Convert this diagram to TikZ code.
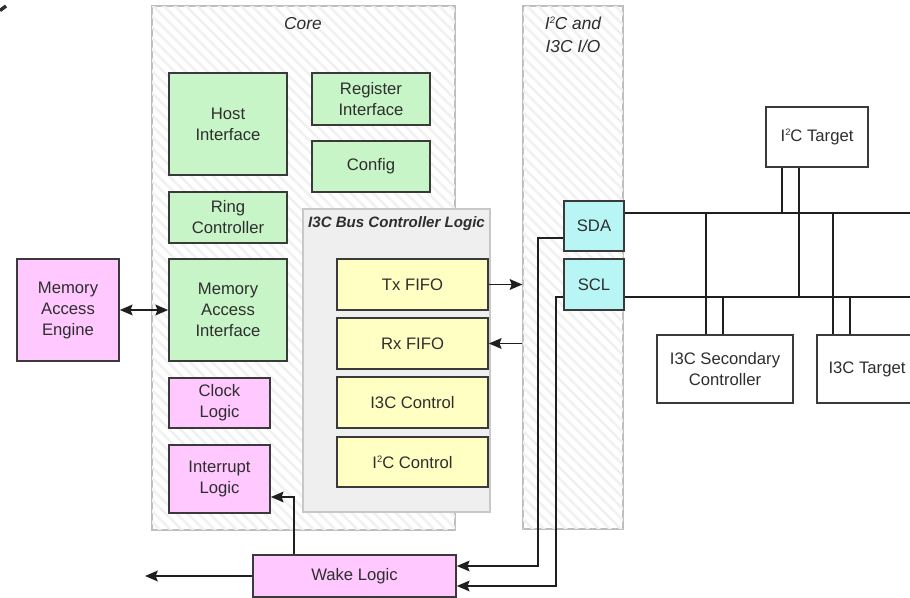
\documentclass[tikz,border=0pt]{standalone}
\usepackage{fontspec}
\setmainfont{Liberation Sans}
\usetikzlibrary{arrows.meta,calc}

\definecolor{txt}{HTML}{2E2E2E}
\definecolor{edge}{HTML}{3A3A3A}
\definecolor{frame}{HTML}{BEBEBE}
\definecolor{gfill}{RGB}{200,245,200}
\definecolor{pfill}{RGB}{255,200,255}
\definecolor{yfill}{RGB}{255,255,195}
\definecolor{cfill}{RGB}{184,246,246}
\definecolor{bfill}{HTML}{EFEFEF}
\definecolor{bedge}{HTML}{C8C8C8}
\definecolor{hatch}{HTML}{F1F1F1}

\newcommand{\supii}{\textsuperscript{\kern0.02em\scriptsize 2}\kern-0.05em}

\begin{document}
\begin{tikzpicture}[x=0.75pt,y=-0.75pt,
  sz/.style 2 args={minimum width=#1*0.75pt, minimum height=#2*0.75pt},
  blk/.style={draw=edge, line width=1.25pt, inner sep=0pt, align=center, text=txt,
    font=\fontsize{12.5}{15.75}\selectfont},
  container/.style={draw=frame, line width=0.9pt, fill=white, inner sep=0pt},
  title/.style={text=txt, align=center, inner sep=0pt,
    font=\fontsize{13}{17.5}\selectfont\itshape},
  wire/.style={draw=black!88, line width=1.4pt},
  tip/.style={Stealth[length=9.5pt,width=8pt,inset=1.5pt]},
  arr/.style={wire, -{Stealth[length=9.5pt,width=8pt,inset=1.5pt]}},
  darr/.style={wire, {Stealth[length=9.5pt,width=8pt,inset=1.5pt]}-{Stealth[length=9.5pt,width=8pt,inset=1.5pt]}},
  hatchline/.style={draw=hatch, line width=2pt}]

\useasboundingbox (0,0) rectangle (910,598);
\clip (0,0) rectangle (910,598);
\fill[white] (0,0) rectangle (910,598);

% small stroke in the upper left corner
\draw[line width=2.6pt, txt] (0,10.5) -- (6,6);

% ---------- containers with light diagonal hatching ----------
\node[container, sz={303}{524}] (core) at (303.5,268) {};
\begin{scope}
  \clip (core.north west) rectangle (core.south east);
  \foreach \i in {-700,-689,...,470} \draw[hatchline] (\i,0) -- ++(720,720);
\end{scope}
\draw[frame, line width=0.9pt] (core.north west) rectangle (core.south east);

\node[container, sz={100}{523}] (io) at (573,267.5) {};
\begin{scope}
  \clip (io.north west) rectangle (io.south east);
  \foreach \i in {-700,-689,...,640} \draw[hatchline] (\i,0) -- ++(720,720);
\end{scope}
\draw[frame, line width=0.9pt] (io.north west) rectangle (io.south east);

\node[title] (corelbl) at (303,24) {Core};
\node[title] (iolbl) at (573,35) {I\supii C and\\I3C I/O};

% ---------- I3C bus controller logic ----------
\node[draw=bedge, fill=bfill, line width=1pt, inner sep=0pt, sz={187}{303}] (bcl) at (396.5,360.5) {};
\node[text=txt, inner sep=0pt, font=\fontsize{11.3}{13}\selectfont\bfseries\itshape] (bcllbl) at (396.5,224) {I3C Bus Controller Logic};

% ---------- core blocks ----------
\node[blk, fill=gfill, sz={118}{102}] (host) at (228,124) {Host\\Interface};
\node[blk, fill=gfill, sz={118}{52}] (reg) at (371,99) {Register\\Interface};
\node[blk, fill=gfill, sz={118}{51}] (cfg) at (371,166.5) {Config};
\node[blk, fill=gfill, sz={118}{51}] (ring) at (228,217.5) {Ring\\Controller};
\node[blk, fill=gfill, sz={118}{102}] (mai) at (228,310) {Memory\\Access\\Interface};
\node[blk, fill=pfill, sz={101}{50}] (clk) at (219.5,403) {Clock\\Logic};
\node[blk, fill=pfill, sz={101}{68}] (intr) at (219.5,479) {Interrupt\\Logic};

\node[blk, fill=yfill, sz={151}{51}] (tx) at (412.5,284.5) {Tx FIFO};
\node[blk, fill=yfill, sz={151}{51}] (rx) at (412.5,343.5) {Rx FIFO};
\node[blk, fill=yfill, sz={151}{51}] (i3cc) at (412.5,402.5) {I3C Control};
\node[blk, fill=yfill, sz={151}{50}] (i2cc) at (412.5,462) {I\supii C Control};

% ---------- outside blocks ----------
\node[blk, fill=pfill, sz={102}{102}] (mae) at (68,310) {Memory\\Access\\Engine};
\node[blk, fill=pfill, sz={203}{42}] (wake) at (354.5,576) {Wake Logic};

\node[blk, fill=cfill, sz={60}{50}] (sda) at (594,226) {SDA};
\node[blk, fill=cfill, sz={60}{51}] (scl) at (594,284.5) {SCL};

\node[blk, fill=white, sz={102}{60}] (i2ct) at (817,137) {I\supii C Target};
\node[blk, fill=white, sz={136}{68}] (sec) at (725,369) {I3C Secondary\\Controller};
\node[blk, fill=white, sz={100}{68}] (i3ct) at (867,369) {I3C Target};

% ---------- connectors ----------
\draw[darr] (mae.east) -- (mai.west);
\draw[arr] (tx.east) -- (tx.east -| io.west);
\draw[arr] (io.west |- rx.east) -- (rx.east);
\draw[arr] ($(wake.north west)+(42,0)$) |- ($(intr.east)+(0,18)$);
\coordinate (wakeout) at (145,576);
\draw[arr] (wake.west) -- (wakeout);
\draw[arr] ($(sda.west)+(0,12)$) -- ++(-25,0) |- ($(wake.east)+(0,-10)$);
\draw[arr] ($(scl.west)+(0,12.5)$) -- ++(-7,0) |- ($(wake.east)+(0,10)$);

% ---------- bus ----------
\coordinate (sdabus) at ($(sda.east)+(0,-13)$);
\coordinate (sclbus) at ($(scl.east)+(0,12.5)$);
\coordinate (sdaend) at (915,213);
\coordinate (sclend) at (915,297);
\draw[wire] (sdabus) -- (sdaend);
\draw[wire] (sclbus) -- (sclend);

\draw[wire] ($(i2ct.south west)+(17,0)$) coordinate (a1) -- (a1 |- sdabus);
\draw[wire] ($(i2ct.south west)+(34,0)$) coordinate (a2) -- (a2 |- sclbus);
\draw[wire] ($(sec.north west)+(50,0)$) coordinate (b1) -- (b1 |- sdabus);
\draw[wire] ($(sec.north west)+(67,0)$) coordinate (b2) -- (b2 |- sclbus);
\draw[wire] ($(i3ct.north west)+(17,0)$) coordinate (c1) -- (c1 |- sdabus);
\draw[wire] ($(i3ct.north west)+(34,0)$) coordinate (c2) -- (c2 |- sclbus);

\end{tikzpicture}
\end{document}
